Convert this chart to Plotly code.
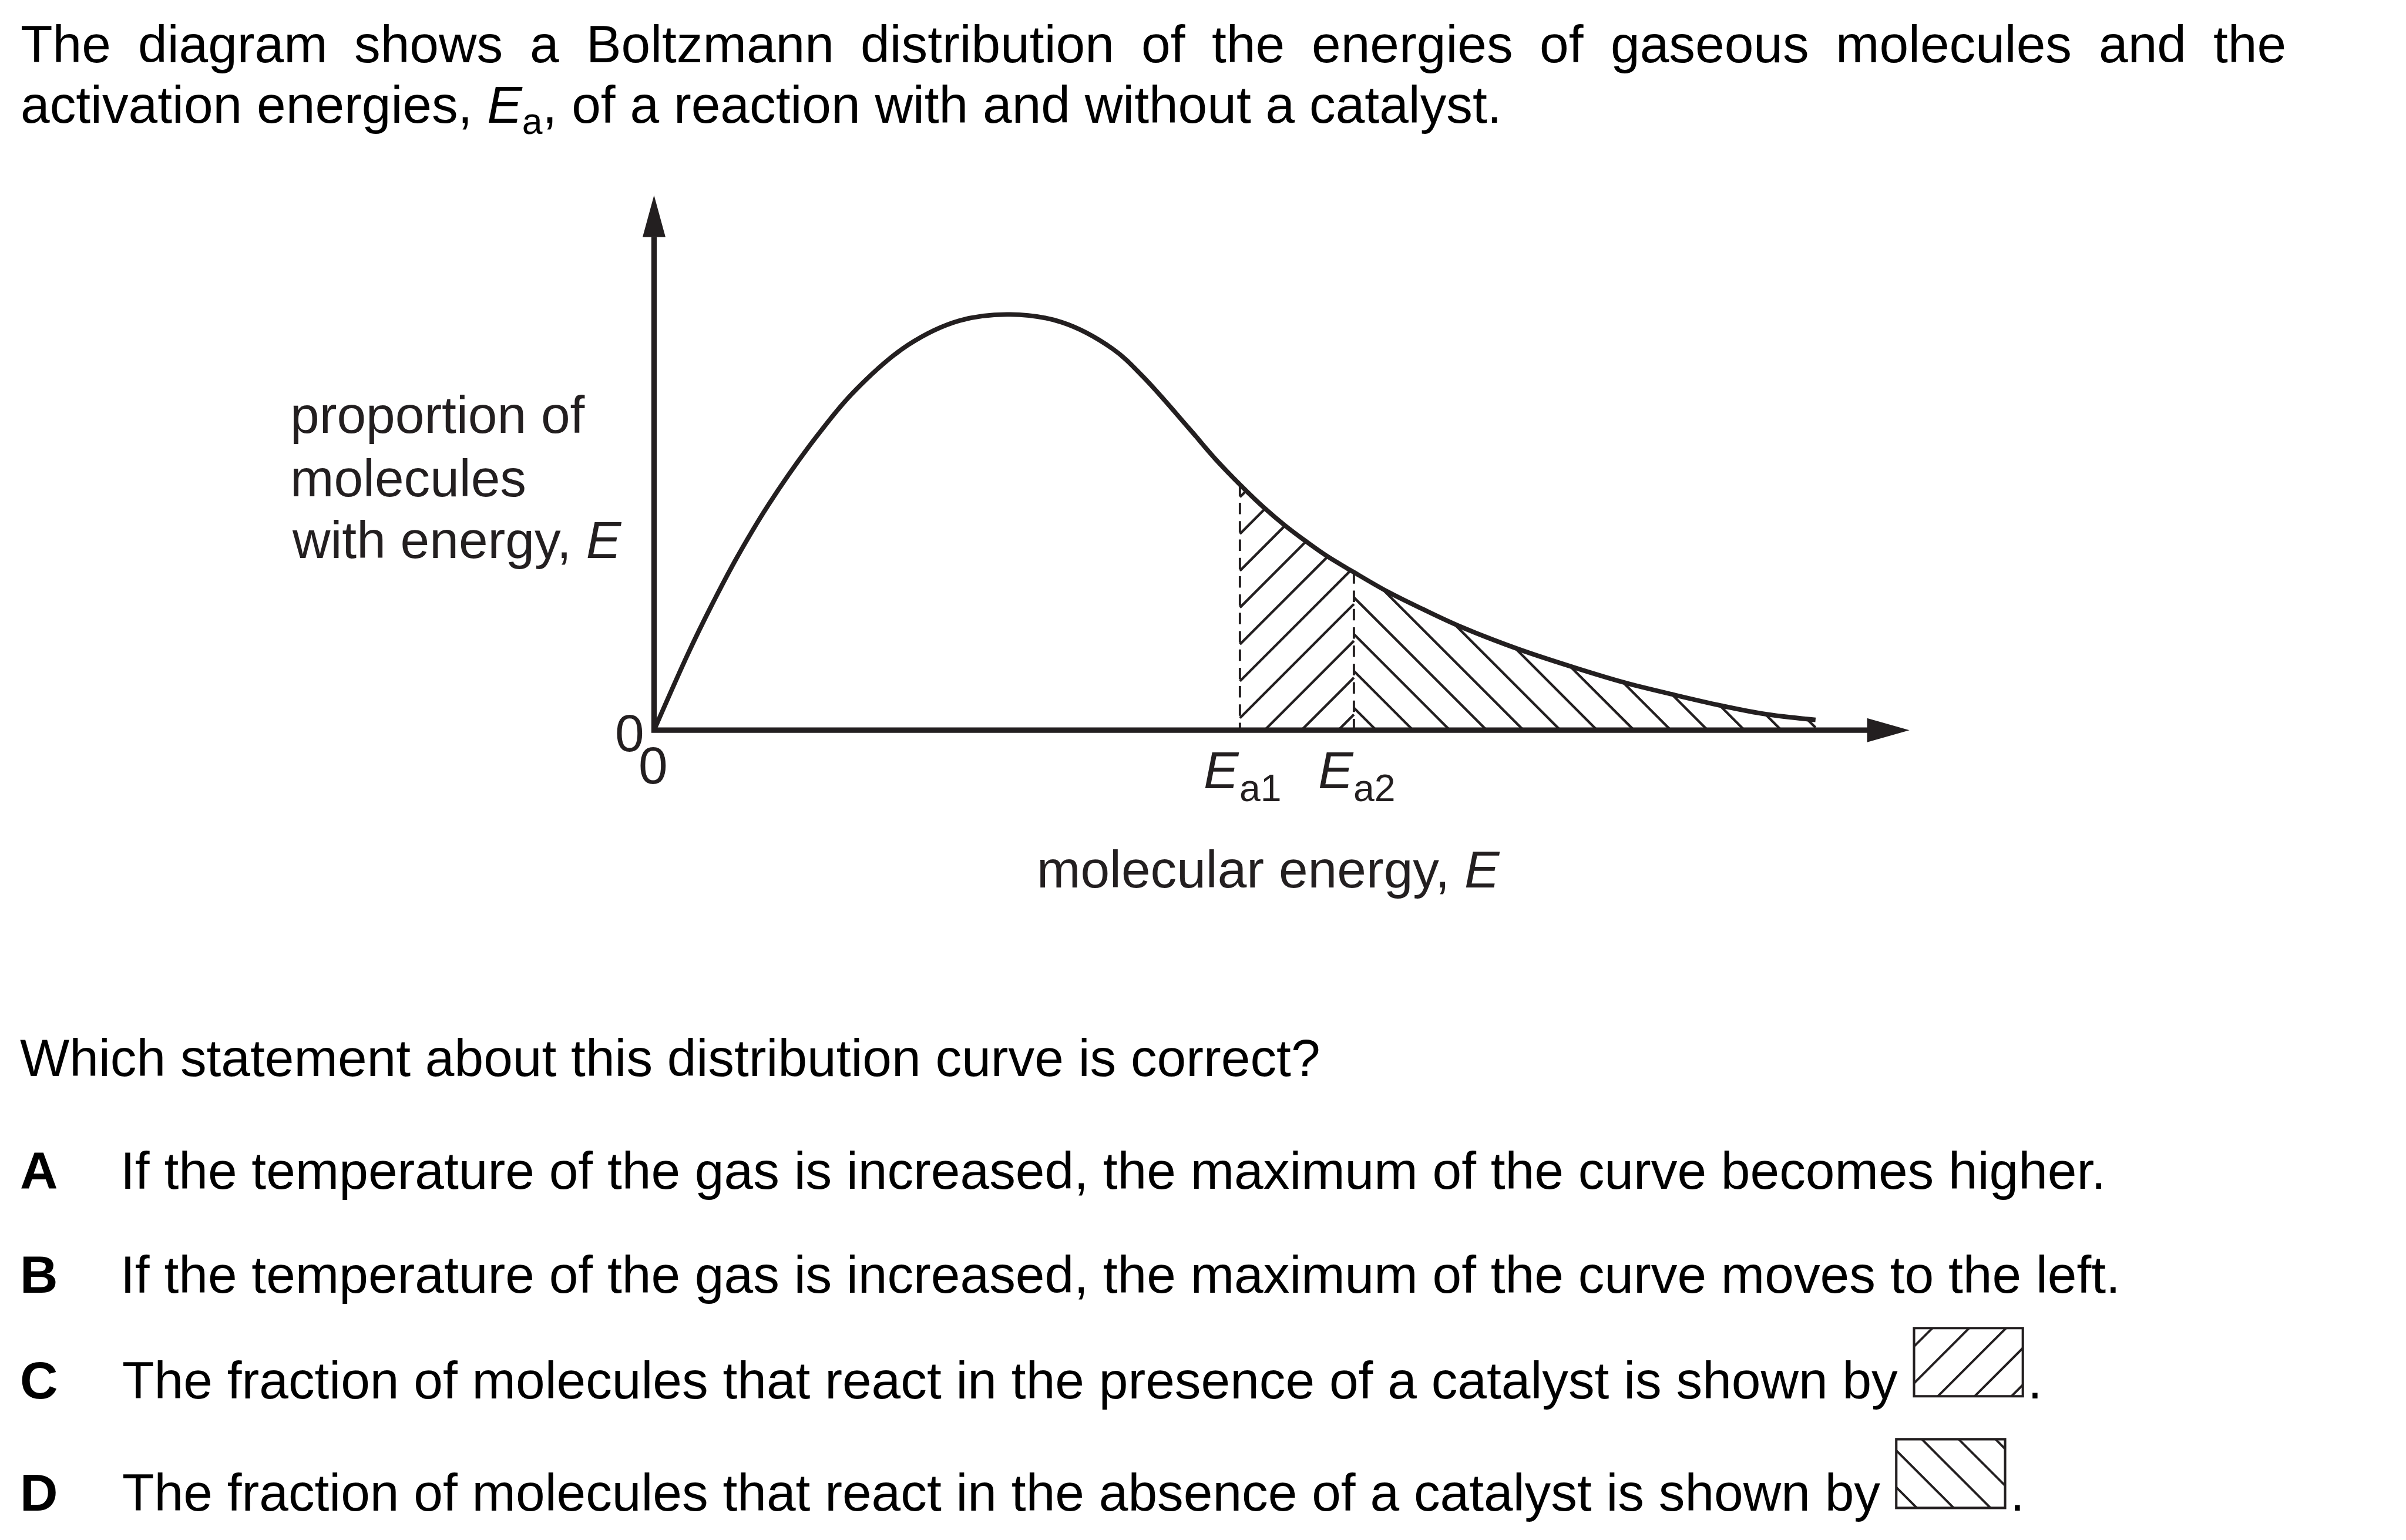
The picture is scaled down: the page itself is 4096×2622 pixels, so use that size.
import numpy as np
import plotly.graph_objects as go

# ---------------- data ----------------
energy = [0.0, 0.30, 0.50, 0.725, 1.00, 1.415, 1.77, 2.22, 2.665, 3.11, 3.56, 4.005,
          4.27, 4.675, 4.895, 5.12, 5.33, 5.505, 5.69, 5.875, 6.10, 6.405, 6.705,
          7.025, 7.54, 8.025, 8.475, 8.90, 9.315, 9.705, 10.14]
proportion = [0.0, 0.186, 0.2989, 0.416, 0.5427, 0.705, 0.821, 0.927, 0.985, 1.0, 0.981,
              0.917, 0.850, 0.7245, 0.654, 0.5895, 0.534, 0.493, 0.4545, 0.4187,
              0.3815, 0.333, 0.292, 0.251, 0.1956, 0.1515, 0.1143, 0.0854, 0.0592,
              0.0386, 0.0248]
ea1 = 5.115
ea2 = 6.11
activation_labels = ["a1", "a2"]

title_line1 = "The diagram shows a Boltzmann distribution of the energies of gaseous molecules and the"
title_line2 = "activation energies, <i>E</i><sub>a</sub>, of a reaction with and without a catalyst."
ylabel_lines = ["proportion of", "molecules", "with energy, <i>E</i>"]
xlabel = "molecular energy, <i>E</i>"
question = "Which statement about this distribution curve is correct?"
option_letters = ["A", "B", "C", "D"]
option_texts = [
    "If the temperature of the gas is increased, the maximum of the curve becomes higher.",
    "If the temperature of the gas is increased, the maximum of the curve moves to the left.",
    "The fraction of molecules that react in the presence of a catalyst is shown by",
    "The fraction of molecules that react in the absence of a catalyst is shown by",
]

# ---------------- geometry / style ----------------
W_REF, H_REF = 4201, 2689
W, H = 4096, 2622
K = W / W_REF
FONT = "Liberation Sans, Arial, sans-serif"
INK = "#231f20"
S = 91.6  # text size in reference px

ORIG_X, ORIG_Y = 1142, 1275   # origin in reference px
UX, UY = 200.0, 726.0          # reference px per data unit


def X(px):
    return (np.asarray(px, dtype=float) - ORIG_X) / UX


def Y(py):
    return (ORIG_Y - np.asarray(py, dtype=float)) / UY


def PX(x):
    return ORIG_X + np.asarray(x, dtype=float) * UX


def PY(y):
    return ORIG_Y - np.asarray(y, dtype=float) * UY


fig = go.Figure()

# ---------------- hatching ----------------
HS = 64.3
cpx = PX(energy)
cpy = PY(proportion)


def curve_py(px):
    return np.interp(px, cpx, cpy)


hx, hy = [], []
# forward-slash family between Ea1 and Ea2
xs = np.linspace(float(PX(ea1)), float(PX(ea2)), 4000)
for k in range(-12, 6):
    c = 3483 + k * HS
    yl = c - xs
    m = (yl <= ORIG_Y) & (yl >= curve_py(xs))
    if m.sum() < 2:
        continue
    x0, x1 = xs[m][0], xs[m][-1]
    hx += [float(X(x0)), float(X(x1)), None]
    hy += [float(Y(c - x0)), float(Y(c - x1)), None]
# back-slash family from Ea2 to end of curve
xs = np.linspace(float(PX(ea2)), float(cpx[-1]), 8000)
for k in range(0, 20):
    xb = 2403 + k * HS
    yl = xs - xb + ORIG_Y
    m = (yl <= ORIG_Y) & (yl >= curve_py(xs))
    if m.sum() < 2:
        continue
    x0, x1 = xs[m][0], xs[m][-1]
    hx += [float(X(x0)), float(X(x1)), None]
    hy += [float(Y(x0 - xb + ORIG_Y)), float(Y(x1 - xb + ORIG_Y)), None]

fig.add_trace(go.Scatter(x=hx, y=hy, mode="lines", line=dict(color=INK, width=4.4 * K),
                         hoverinfo="skip", showlegend=False))

# dashed activation energy lines
for ea in (ea1, ea2):
    top = float(np.interp(ea, energy, proportion))
    fig.add_trace(go.Scatter(x=[ea, ea], y=[top, 0], mode="lines",
                             line=dict(color=INK, width=4 * K, dash=f"{20*K}px,{12*K}px"),
                             hoverinfo="skip", showlegend=False))

# distribution curve
fig.add_trace(go.Scatter(x=energy, y=proportion, mode="lines",
                         line=dict(color=INK, width=8 * K, shape="spline", smoothing=1.0),
                         hoverinfo="skip", showlegend=False))

# ---------------- axes with arrows ----------------
y_top_base, y_tip = 414, 341
x_right_base, x_tip = 3262, 3334
fig.add_shape(type="path", xref="x", yref="y",
              path=f"M {X(ORIG_X)},{Y(y_top_base)} L {X(ORIG_X)},{Y(ORIG_Y)} L {X(x_right_base)},{Y(ORIG_Y)}",
              line=dict(color=INK, width=9.5 * K))
fig.add_shape(type="path", xref="x", yref="y",
              path=(f"M {X(ORIG_X-20)},{Y(y_top_base)} L {X(ORIG_X)},{Y(y_tip)} "
                    f"L {X(ORIG_X+20)},{Y(y_top_base)} Z"),
              fillcolor=INK, line=dict(width=0))
fig.add_shape(type="path", xref="x", yref="y",
              path=(f"M {X(x_right_base-2)},{Y(ORIG_Y-21)} L {X(x_tip)},{Y(ORIG_Y)} "
                    f"L {X(x_right_base-2)},{Y(ORIG_Y+21)} Z"),
              fillcolor=INK, line=dict(width=0))

# ---------------- legend boxes in options C and D ----------------
def hatch_box(x0, y0, x1, y1, forward, c0):
    bx, by = [], []
    xs_ = np.linspace(x0, x1, 2000)
    for k in range(0, 12):
        c = c0 + k * HS if forward else c0 - k * HS
        yl = (c - xs_) if forward else (xs_ + c)
        m = (yl >= y0) & (yl <= y1)
        if m.sum() < 2:
            continue
        a, b = xs_[m][0], xs_[m][-1]
        ya = (c - a) if forward else (a + c)
        yb = (c - b) if forward else (b + c)
        bx += [float(X(a)), float(X(b)), None]
        by += [float(Y(ya)), float(Y(yb)), None]
    fig.add_trace(go.Scatter(x=bx, y=by, mode="lines", line=dict(color=INK, width=4 * K),
                             hoverinfo="skip", showlegend=False))
    fig.add_shape(type="rect", xref="x", yref="y", x0=float(X(x0)), x1=float(X(x1)),
                  y0=float(Y(y0)), y1=float(Y(y1)), line=dict(color=INK, width=4.2 * K))


hatch_box(3342, 2319, 3532, 2438, True, 5693)
hatch_box(3311, 2513, 3501, 2633, False, -714)

# ---------------- text ----------------
AW = dict(zip("abcdefghijklmnopqrstuvwxyz",
              [556, 556, 500, 556, 556, 278, 556, 556, 222, 222, 500, 222, 833,
               556, 556, 556, 556, 333, 500, 278, 556, 500, 722, 500, 500, 500]))
AW.update({"T": 611, "B": 667, " ": 278})


def wlen(w, size=S):
    return sum(AW[ch] for ch in w) / 1000.0 * size


def txt(text, x_ref, base_ref, size=S, color="black", italic=False):
    if italic:
        text = f"<i>{text}</i>"
    fig.add_annotation(x=x_ref / W_REF, y=1 - (base_ref - 0.905 * size) / H_REF,
                       xref="paper", yref="paper", xanchor="left", yanchor="top",
                       text=text, showarrow=False, borderpad=0, align="left",
                       font=dict(family=FONT, size=size * K, color=color))


# justified first line
words = title_line1.split()
left, right = 35.0, 3990.5
total = sum(wlen(w) for w in words)
gap = (right - left - total) / (len(words) - 1)
xpos = left
for w in words:
    txt(w, xpos, 107.3)
    xpos += wlen(w) + gap
txt(title_line2, 35, 212.7)

# axis label (left)
txt(ylabel_lines[0], 506, 755, color=INK)
txt(ylabel_lines[1], 506, 865, color=INK)
txt(ylabel_lines[2], 509, 973, color=INK)
# zeros
txt("0", 1073, 1310, color=INK)
txt("0", 1114, 1367, color=INK)
# Ea labels
for ea, lab in zip((ea1, ea2), activation_labels):
    px = float(PX(ea))
    txt("E", px - 64, 1375, color=INK, italic=True)
    txt(lab, px - 2, 1398, size=66, color=INK)
txt(xlabel, 1809, 1548, color=INK)

# question
txt(question, 34, 1877.3)
baselines = [2075, 2256, 2440.7, 2636.7]
text_x = [209, 209, 212, 212]
for letter, t, b, tx in zip(option_letters, option_texts, baselines, text_x):
    txt(f"<b>{letter}</b>", 34, b)
    txt(t, tx, b)
txt(".", 3539, 2441)
txt(".", 3509, 2637)

fig.update_layout(
    width=W, height=H, autosize=False,
    margin=dict(l=0, r=0, t=0, b=0, pad=0),
    paper_bgcolor="white", plot_bgcolor="white",
    xaxis=dict(range=[float(X(0)), float(X(W_REF))], visible=False, fixedrange=True),
    yaxis=dict(range=[float(Y(H_REF)), float(Y(0))], visible=False, fixedrange=True),
    showlegend=False,
)

fig.write_html("out.html",
               config={"displayModeBar": False, "staticPlot": True},
               post_script="document.body.style.margin='0';document.body.style.padding='0';"
                           "document.body.style.overflow='hidden';")
